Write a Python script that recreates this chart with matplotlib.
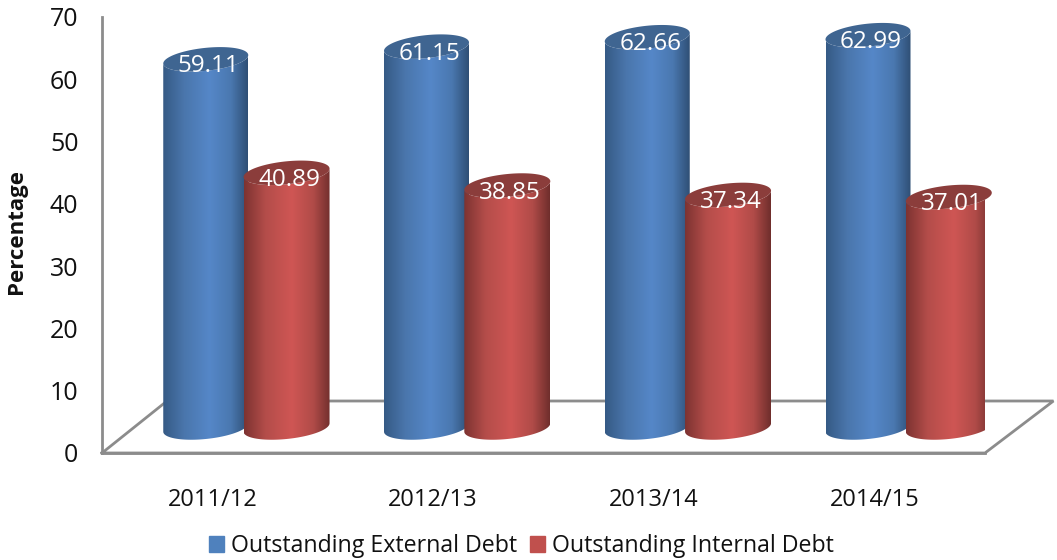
import numpy as np
import matplotlib
matplotlib.use("Agg")
import matplotlib.pyplot as plt
from matplotlib.colors import LinearSegmentedColormap
from matplotlib.patches import Patch, PathPatch
from matplotlib.path import Path

years = ["2011/12", "2012/13", "2013/14", "2014/15"]
external = [59.11, 61.15, 62.66, 62.99]
internal = [40.89, 38.85, 37.34, 37.01]
yticks = [0, 10, 20, 30, 40, 50, 60, 70]

plt.rcParams['font.family'] = ['Open Sans', 'DejaVu Sans']

W, H = 1057, 560
fig = plt.figure(figsize=(W/100, H/100), dpi=100)
# pixel box of the front axis
ax = fig.add_axes([102/W, 1 - 453/H, (985 - 102)/W, (453 - 17)/H])
ax.set_xlim(-0.5, 3.5)
ax.set_ylim(0, 70)

GRAY = "#8c8c8c"
xpx = 883/4
ypx = 436/70

# floor
dx = 65/xpx
dy = 52/ypx
ax.plot([-0.5, -0.5 + dx, 3.5 + 0.31, 3.5, -0.5], [0, dy, dy, 0, 0], color=GRAY, lw=2, clip_on=False, zorder=1, solid_joinstyle='miter')

for s in ['top', 'right']:
	ax.spines[s].set_visible(False)
for s in ['left', 'bottom']:
	ax.spines[s].set_color(GRAY)
	ax.spines[s].set_linewidth(2)

ax.set_yticks(yticks)
ax.set_xticks(range(4))
ax.set_xticklabels(years)
ax.tick_params(axis='y', length=0, pad=17, labelsize=18, labelcolor='#111111')
ax.tick_params(axis='x', length=0, pad=25, labelsize=17, labelcolor='#111111')
ax.set_ylabel("Percentage", fontsize=16, fontweight='bold', color='#111111')
ax.yaxis.set_label_coords(-0.0845, 0.507)

blue_map = LinearSegmentedColormap.from_list("b", [(0, "#355a85"), (0.25, "#4a76ac"), (0.55, "#5587c8"), (0.8, "#4a78b0"), (1, "#2f4f75")])
red_map = LinearSegmentedColormap.from_list("r", [(0, "#7d3331"), (0.25, "#b44d4a"), (0.55, "#cf5654"), (0.8, "#b04b48"), (1, "#6f2e2c")])

half_h = 11.5/ypx
tilt = 4.2/ypx
base = 25.5/ypx
label_drop = 7/ypx
label_shift = 3/xpx
t = np.linspace(0, 2*np.pi, 121)

def ring(cx, cy, half_w):
	return cx + half_w*np.cos(t), cy + half_h*np.sin(t) + tilt*np.cos(t)

def cylinder(cx, half_w, value, cmap, top_color, z):
	top = base + value
	tx, ty = ring(cx, top, half_w)
	bx, by = ring(cx, base, half_w)
	low = t >= np.pi
	# body: the lower half of the bottom ellipse, then straight up to the top one
	verts = np.vstack([np.column_stack([bx[low], by[low]]), np.column_stack([tx[low][::-1], ty[low][::-1]])])
	clip = PathPatch(Path(np.vstack([verts, verts[0]])), transform=ax.transData, fc='none', ec='none')
	ax.add_patch(clip)
	grad = np.linspace(0, 1, 256).reshape(1, -1)
	im = ax.imshow(grad, cmap=cmap, aspect='auto', extent=[cx - half_w, cx + half_w, -5, 80], zorder=z, clip_on=True)
	im.set_clip_path(clip)
	ax.fill(tx, ty, color=top_color, lw=0, zorder=z + 0.1, clip_on=False)
	ax.text(cx + label_shift, top - label_drop, "%.2f" % value, color='white', ha='center', va='center', fontsize=17.5, zorder=20)

for i in range(4):
	cylinder(i - 0.03, 42.5/xpx, external[i], blue_map, "#3f6591", 3 + i)
	cylinder(i + 0.336, 43/xpx, internal[i], red_map, "#8b3d3b", 3.5 + i)

ax.set_xlim(-0.5, 3.5)
ax.set_ylim(0, 70)

handles = [Patch(color="#4f81bd"), Patch(color="#c0504d")]
fig.legend(handles, ["Outstanding External Debt", "Outstanding Internal Debt"], loc='center', bbox_to_anchor=(521/W, 1 - 546/H), ncol=2, frameon=False, fontsize=16.7, handlelength=0.65, handleheight=0.65, handletextpad=0.3, columnspacing=0.55, labelcolor='#111111')

fig.savefig("out.png", dpi=100)
